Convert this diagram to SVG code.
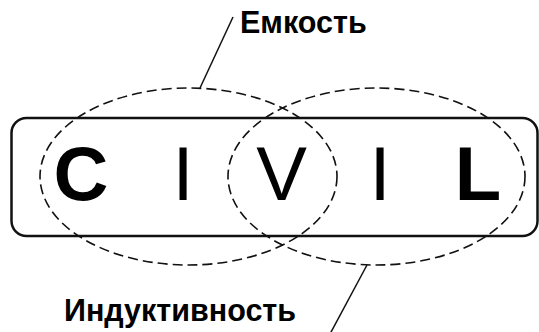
<svg xmlns="http://www.w3.org/2000/svg" width="539" height="332" viewBox="0 0 539 332">
<style>
.frame{fill:none;stroke:#111;stroke-width:2.5}
.ell{fill:none;stroke:#111;stroke-width:1.6;stroke-dasharray:10 5}
.lead{fill:none;stroke:#111;stroke-width:1.5}
.lbl{font-family:"Liberation Sans",Arial,sans-serif;font-weight:bold;font-size:30.5px;fill:#000}
.big{font-family:"Liberation Sans",Arial,sans-serif;font-size:76px;fill:#000;text-anchor:middle}
.b{font-weight:bold}
</style>
<rect width="539" height="332" fill="#fff"/>
<g id="word">
<rect class="frame" x="11.5" y="118" width="526" height="118" rx="15" ry="15"/>
<text class="big b" x="81" y="200">C</text>
<text class="big" x="183" y="200">I</text>
<text class="big" x="281.5" y="200">V</text>
<text class="big" x="380" y="200">I</text>
<text class="big b" x="478" y="200">L</text>
</g>
<g id="capacitance">
<ellipse class="ell" cx="188.5" cy="176.5" rx="148.5" ry="88.5"/>
<text class="lbl" x="240" y="33">Емкость</text>
</g>
<g id="inductance">
<ellipse class="ell" cx="376.5" cy="176.5" rx="148.5" ry="88.5"/>
<text class="lbl" x="64" y="321">Индуктивность</text>
</g>
<g id="connectors">
<line class="lead" x1="200" y1="88" x2="233" y2="17"/>
<line class="lead" x1="367" y1="265" x2="330" y2="334"/>
</g>
</svg>
